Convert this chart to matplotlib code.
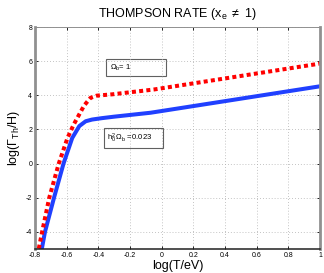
import matplotlib
matplotlib.use("Agg")
import matplotlib.pyplot as plt
from matplotlib.patches import Rectangle

plt.rcParams["font.family"] = ["Liberation Sans", "DejaVu Sans"]
plt.rcParams["axes.unicode_minus"] = False
plt.rcParams["mathtext.fontset"] = "custom"
plt.rcParams["mathtext.rm"] = "Liberation Sans"
plt.rcParams["mathtext.it"] = "Liberation Sans"

# log(T/eV) and log(Gamma_Th/H)
logt_low = [-0.765, -0.737, -0.68, -0.62, -0.565, -0.52, -0.48, -0.44,
            -0.38, -0.30, -0.07, 0.4, 1.0]
rate_low = [-5.4, -4.0, -2.0, 0.0, 1.5, 2.2, 2.48, 2.58,
            2.66, 2.75, 2.98, 3.66, 4.53]

logt_one = [-0.785, -0.755, -0.71, -0.65, -0.595, -0.555, -0.49, -0.45,
            -0.41, -0.31, -0.05, 0.4, 1.0]
rate_one = [-5.4, -4.0, -2.0, 0.0, 1.5, 2.3, 3.4, 3.85,
            3.98, 4.06, 4.34, 4.99, 5.86]

xticks = [-0.8, -0.6, -0.4, -0.2, 0, 0.2, 0.4, 0.6, 0.8, 1]
xticklabels = ["-0.8", "-0.6", "-0.4", "-0.2", "0", "0.2", "0.4", "0.6", "0.8", "1"]
yticks = [-4, -2, 0, 2, 4, 6, 8]

fig = plt.figure(figsize=(3.24, 2.73), dpi=100)
ax = fig.add_axes([0.108, 0.088, 0.880, 0.813])

ax.plot(logt_low, rate_low, color="#2040ff", lw=2.9, solid_capstyle="butt")
ax.plot(logt_one, rate_one, color="#ff0000", lw=2.9,
        linestyle=(0, (1, 0.8)), dash_capstyle="butt")

ax.set_xlim(-0.8, 1)
ax.set_ylim(-5, 8)
ax.set_xticks(xticks)
ax.set_xticklabels(xticklabels)
ax.set_yticks(yticks)
ax.tick_params(direction="in", labelsize=5, length=2, width=0.6,
               top=True, right=True, pad=2)
ax.grid(True, linestyle=(0, (1, 2.5)), color="#b0b0b0", lw=0.6)

for side in ["left", "right"]:
    ax.spines[side].set_color("#909090")
    ax.spines[side].set_linewidth(2.0)
ax.spines["bottom"].set_color("#202020")
ax.spines["bottom"].set_linewidth(1.1)
ax.spines["top"].set_color("#909090")
ax.spines["top"].set_linewidth(0.7)

ax.set_title(r"THOMPSON RATE (x$_e$ $\neq$ 1)", fontsize=9, pad=7)
ax.set_xlabel("log(T/eV)", fontsize=9, labelpad=1)
ax.set_ylabel(r"log($\Gamma_{Th}$/H)", fontsize=9, labelpad=3)

# annotation boxes
ax.add_patch(Rectangle((0.249, 0.779), 0.211, 0.077, transform=ax.transAxes,
                       fill=False, edgecolor="#606060", lw=0.8))
ax.text(0.262, 0.817, r"$\Omega_b$= 1", transform=ax.transAxes,
        fontsize=5.5, va="center", ha="left")
ax.add_patch(Rectangle((0.242, 0.455), 0.207, 0.09, transform=ax.transAxes,
                       fill=False, edgecolor="#606060", lw=0.8))
ax.text(0.252, 0.50, r"$h_0^2\,\Omega_b$ =0.023", transform=ax.transAxes,
        fontsize=5.5, va="center", ha="left")

fig.savefig("out.png", dpi=100)
